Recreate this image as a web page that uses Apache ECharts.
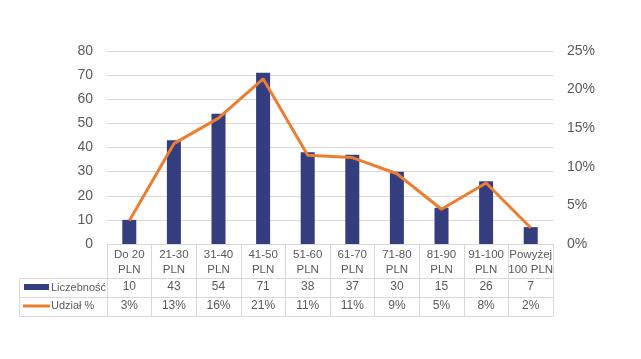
<!DOCTYPE html>
<html>
<head>
<meta charset="utf-8">
<script src="https://cdn.jsdelivr.net/npm/echarts@6/dist/echarts.min.js"></script>
<style>
html,body{margin:0;padding:0;background:#fff;}
#main{width:641px;height:359px;}
</style>
</head>
<body>
<div id="main"></div>
<script>
var categories = ['Do 20\nPLN','21-30\nPLN','31-40\nPLN','41-50\nPLN','51-60\nPLN','61-70\nPLN','71-80\nPLN','81-90\nPLN','91-100\nPLN','Powyżej\n100 PLN'];
var counts = [10, 43, 54, 71, 38, 37, 30, 15, 26, 7];
var shares = [3.0, 13.0, 16.3, 21.4, 11.5, 11.2, 9.1, 4.5, 7.9, 2.1];
var shareLabels = ['3%','13%','16%','21%','11%','11%','9%','5%','8%','2%'];
var leftTicks = [0, 80, 10];
var rightTicks = [0, 25, 5];

var FONT = 'Liberation Sans';
var TXT = '#595959';
var GRIDC = '#d9d9d9';
var BAR = '#343e7e';
var LINE = '#ec7d31';

var chart = echarts.init(document.getElementById('main'), null, {renderer:'canvas'});
var option = {
  animation: false,
  backgroundColor: '#fff',
  textStyle: {fontFamily: FONT},
  grid: {left: 107, right: 88, top: 51, bottom: 115},
  xAxis: [
    {
      type: 'category', data: categories, position: 'bottom',
      axisLine: {show: true, lineStyle: {color: GRIDC, width: 1}},
      axisTick: {show: true, length: 72, lineStyle: {color: GRIDC, width: 1}},
      axisLabel: {color: TXT, fontSize: 11.5, fontFamily: FONT, lineHeight: 15, margin: 3, interval: 0}
    },
    {
      type: 'category', data: categories, position: 'bottom', offset: 34,
      axisLine: {show: false}, axisTick: {show: false},
      axisLabel: {color: TXT, fontSize: 12, fontFamily: FONT, margin: 3, interval: 0,
        formatter: function(v, i){ return String(counts[i]); }}
    },
    {
      type: 'category', data: categories, position: 'bottom', offset: 53,
      axisLine: {show: false}, axisTick: {show: false},
      axisLabel: {color: TXT, fontSize: 12, fontFamily: FONT, margin: 3, interval: 0,
        formatter: function(v, i){ return shareLabels[i]; }}
    }
  ],
  yAxis: [
    {
      type: 'value', min: leftTicks[0], max: leftTicks[1], interval: leftTicks[2],
      axisLine: {show: false}, axisTick: {show: false},
      splitLine: {show: true, lineStyle: {color: GRIDC, width: 1}},
      axisLabel: {color: TXT, fontSize: 14, fontFamily: FONT, margin: 14}
    },
    {
      type: 'value', min: rightTicks[0], max: rightTicks[1], interval: rightTicks[2],
      position: 'right',
      axisLine: {show: false}, axisTick: {show: false},
      splitLine: {show: false},
      axisLabel: {color: TXT, fontSize: 14, fontFamily: FONT, margin: 14, formatter: '{value}%'}
    }
  ],
  series: [
    {
      name: 'Liczebność', type: 'bar', data: counts, xAxisIndex: 0, yAxisIndex: 0,
      barWidth: 14, itemStyle: {color: BAR}
    },
    {
      name: 'Udział %', type: 'line', data: shares, xAxisIndex: 0, yAxisIndex: 1,
      showSymbol: false, symbol: 'none', lineStyle: {color: LINE, width: 3}, itemStyle: {color: LINE}
    }
  ],
  graphic: [
    {type:'line', shape:{x1:19.5,y1:278.5,x2:553,y2:278.5}, style:{stroke:GRIDC, lineWidth:1}, silent:true},
    {type:'line', shape:{x1:19.5,y1:297.5,x2:553,y2:297.5}, style:{stroke:GRIDC, lineWidth:1}, silent:true},
    {type:'line', shape:{x1:19.5,y1:316.5,x2:553,y2:316.5}, style:{stroke:GRIDC, lineWidth:1}, silent:true},
    {type:'line', shape:{x1:19.5,y1:278.5,x2:19.5,y2:316.5}, style:{stroke:GRIDC, lineWidth:1}, silent:true},
    {type:'rect', shape:{x:24,y:284,width:25,height:6}, style:{fill:BAR}, silent:true},
    {type:'line', shape:{x1:23,y1:306,x2:50,y2:306}, style:{stroke:LINE, lineWidth:3}, silent:true},
    {type:'text', x:51, y:288, style:{text:'Liczebność', fill:TXT, fontSize:11, fontFamily:FONT, verticalAlign:'middle'}, silent:true},
    {type:'text', x:51, y:306, style:{text:'Udział %', fill:TXT, fontSize:11, fontFamily:FONT, verticalAlign:'middle'}, silent:true}
  ]
};
chart.setOption(option);
</script>
</body>
</html>
